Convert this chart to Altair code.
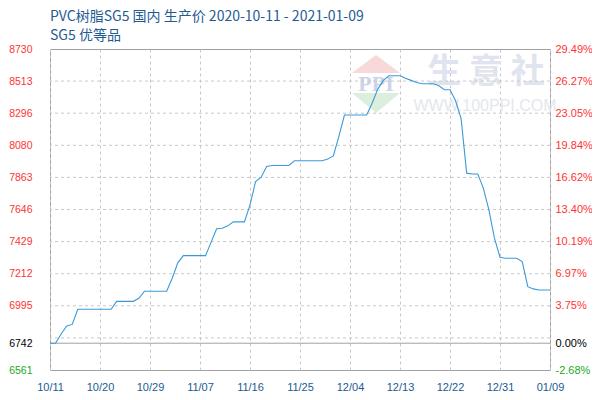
import altair as alt
import pandas as pd

# ---- data ----
dates = pd.date_range("2020-10-11", "2021-01-09", freq="D").strftime("%Y-%m-%d").tolist()
prices = [
    6742, 6742, 6804, 6858, 6869, 6971, 6971, 6971, 6971, 6971,
    6971, 6971, 7025, 7025, 7025, 7025, 7046, 7093, 7093, 7093,
    7093, 7093, 7181, 7285, 7334, 7334, 7334, 7334, 7334, 7425,
    7515, 7519, 7535, 7562, 7562, 7562, 7677, 7834, 7864, 7936,
    7943, 7943, 7943, 7943, 7975, 7975, 7975, 7975, 7975, 7975,
    7986, 8008, 8139, 8284, 8284, 8284, 8284, 8284, 8365, 8459,
    8518, 8549, 8549, 8549, 8533, 8518, 8504, 8495, 8495, 8495,
    8482, 8455, 8455, 8380, 8260, 7891, 7885, 7885, 7790, 7643,
    7452, 7323, 7316, 7316, 7316, 7294, 7124, 7109, 7102, 7102,
    7102,
]
tick_dates = ["2020-10-11", "2020-10-20", "2020-10-29", "2020-11-07", "2020-11-16",
              "2020-11-25", "2020-12-04", "2020-12-13", "2020-12-22", "2020-12-31",
              "2021-01-09"]
y_ticks = [8730, 8513, 8296, 8080, 7863, 7646, 7429, 7212, 6995, 6742, 6561]
pct_labels = ["29.49%", "26.27%", "23.05%", "19.84%", "16.62%", "13.40%",
              "10.19%", "6.97%", "3.75%", "0.00%", "-2.68%"]
grid_levels = [8513.1, 8296.2, 8079.3, 7862.4, 7645.5, 7428.6, 7211.7, 6994.8, 6777.9]
base_price = [6742]
y_min, y_max = 6561, 8730

title_text = "PVC树脂SG5 国内 生产价 2020-10-11 - 2021-01-09"
subtitle_text = "SG5 优等品"
wm_main = ["生  意  社"]
wm_url = ["WWW.100PPI.COM"]
wm_logo = ["PPI"]

df = pd.DataFrame({"date": dates, "price": prices})


def dt(s):
    y, m, d = (int(p) for p in s.split("-"))
    return alt.DateTime(year=y, month=m, date=d, utc=True)


x_scale = alt.Scale(type="utc", domain=[dt(dates[0]), dt(dates[-1])])
y_scale = alt.Scale(domain=[y_min, y_max], nice=False, zero=False)

label_color = {
    "condition": [
        {"test": "datum.value == 6742", "value": "#000000"},
        {"test": "datum.value < 6742", "value": "#22aa22"},
    ],
    "value": "#ff3333",
}
LBL_FONT = "Liberation Sans"

# watermark
wm1 = alt.Chart(pd.DataFrame({"t": wm_main})).mark_text(
    font="Noto Sans CJK SC", fontSize=34, fontWeight="bold", color="#dfe4ee"
).encode(text="t:N", x=alt.value(436), y=alt.value(24))
wm2 = alt.Chart(pd.DataFrame({"t": wm_url})).mark_text(
    font="Liberation Sans", fontSize=16, color="#e4e7ec"
).encode(text="t:N", x=alt.value(435), y=alt.value(57))
wm3 = alt.Chart(pd.DataFrame({"t": wm_logo})).mark_text(
    font="Liberation Serif", fontSize=22, fontWeight="bold", color="#ccd4e6"
).encode(text="t:N", x=alt.value(326), y=alt.value(35))
tri_red = alt.Chart(pd.DataFrame({"t": wm_logo})).mark_point(
    shape="M-1,0 L0,-0.75 L1,0 Z", filled=True, color="#f8d8d8", opacity=1, size=2304
).encode(x=alt.value(326), y=alt.value(24))
tri_green = alt.Chart(pd.DataFrame({"t": wm_logo})).mark_point(
    shape="M-1,0 L1,0 L0,0.83 Z", filled=True, color="#dcefdc", opacity=1, size=2304
).encode(x=alt.value(326), y=alt.value(44))

hgrid = alt.Chart(pd.DataFrame({"g": grid_levels})).mark_rule(
    color="#c8c8c8", strokeDash=[3, 3], strokeWidth=1
).encode(y=alt.Y("g:Q", scale=y_scale, axis=None))

baseline = alt.Chart(pd.DataFrame({"b": base_price})).mark_rule(
    color="#a0a0a0", strokeWidth=1
).encode(y=alt.Y("b:Q", scale=y_scale, axis=None))

line = alt.Chart(df).mark_line(color="#3a9ad9", strokeWidth=1.1).encode(
    x=alt.X("date:T", scale=x_scale, title=None,
            axis=alt.Axis(values=[dt(d) for d in tick_dates], format="%m/%d",
                          grid=True, gridDash=[3, 3], gridColor="#c8c8c8",
                          ticks=False, domain=False, labelFlush=False,
                          labelPadding=11, labelColor="#1a5b8f",
                          labelFont=LBL_FONT, labelFontSize=11)),
    y=alt.Y("price:Q", scale=y_scale, title=None,
            axis=alt.Axis(values=y_ticks, format="d", grid=False, ticks=False, domain=False,
                          labelPadding=18, labelColor=label_color, labelOverlap=False,
                          labelFont=LBL_FONT, labelFontSize=10.5)),
)

pct_expr = "[" + ",".join("'%s'" % s for s in pct_labels) + "][indexof([" + \
    ",".join(str(v) for v in y_ticks) + "], datum.value)]"

right = alt.Chart(pd.DataFrame({"v": y_ticks})).mark_point(opacity=0).encode(
    y=alt.Y("v:Q", scale=y_scale, title=None,
            axis=alt.Axis(orient="right", values=y_ticks, grid=False, ticks=False,
                          domain=False, labelPadding=5, labelColor=label_color,
                          labelOverlap=False, labelExpr=pct_expr,
                          labelFont=LBL_FONT, labelFontSize=11)),
)

chart = alt.layer(
    tri_red, tri_green, wm3, wm1, wm2, hgrid, baseline, line, right
).resolve_scale(y="shared").resolve_axis(y="independent").properties(
    width=500,
    height=321,
    autosize=alt.AutoSizeParams(type="none"),
    padding={"left": 42, "top": 41, "right": 42, "bottom": 22},
    background="white",
    title=alt.TitleParams(
        text=title_text, subtitle=subtitle_text, anchor="start", frame="group",
        font="Noto Sans CJK SC", fontSize=14, fontWeight="normal", color="#1f5c93",
        subtitleFont="Noto Sans CJK SC", subtitleFontSize=14, subtitleColor="#1f5c93",
        offset=0, subtitlePadding=5,
    ),
).configure_view(stroke="#a0a0a0", strokeWidth=1)

chart.save("out.html", embed_options={"renderer": "svg", "actions": False})
